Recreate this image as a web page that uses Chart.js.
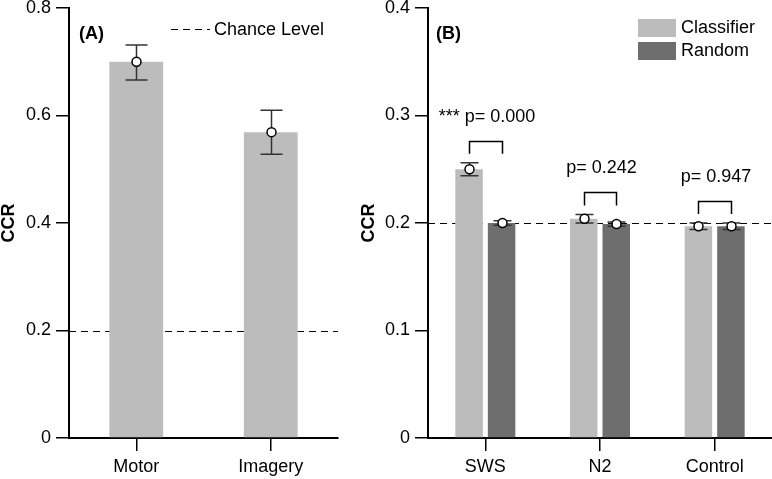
<!DOCTYPE html>
<html>
<head>
<meta charset="utf-8">
<script src="https://cdn.jsdelivr.net/npm/chart.js@4"></script>
<style>
  html, body { margin: 0; padding: 0; background: #fff; }
  #wrap { position: relative; width: 772px; height: 479px; }
  .panel { position: absolute; top: 0; height: 479px; }
  #panelA { left: 0; width: 360px; }
  #panelB { left: 360px; width: 412px; }
</style>
</head>
<body>
<div id="wrap">
  <div class="panel" id="panelA"><canvas id="chartA"></canvas></div>
  <div class="panel" id="panelB"><canvas id="chartB"></canvas></div>
</div>
<script>
// panel A: motor vs imagery
const taskCategories = ['Motor', 'Imagery'];
const taskMeans = [0.700, 0.569];
const taskLow = [0.666, 0.528];
const taskHigh = [0.731, 0.610];

// panel B: sleep stages, classifier vs random
const stageCategories = ['SWS', 'N2', 'Control'];
const classifierMeans = [0.250, 0.204, 0.197];
const classifierLow = [0.244, 0.200, 0.194];
const classifierHigh = [0.256, 0.208, 0.200];
const randomMeans = [0.200, 0.199, 0.197];
const randomLow = [0.198, 0.197, 0.194];
const randomHigh = [0.202, 0.201, 0.200];
const pLabels = ['*** p= 0.000', 'p= 0.242', 'p= 0.947'];

const chanceLevel = 0.2;

const FONT = "'Liberation Sans', Arial, Helvetica, sans-serif";
const LIGHT = '#bcbcbc';
const DARK = '#6e6e6e';

Chart.defaults.font.family = FONT;
Chart.defaults.color = '#000';

// error bars + white markers on top of each bar
const errorBars = {
  id: 'errorBars',
  afterDatasetsDraw(chart, args, opts) {
    const ctx = chart.ctx, y = chart.scales.y;
    ctx.save();
    opts.series.forEach((s, i) => {
      const meta = chart.getDatasetMeta(i);
      meta.data.forEach((bar, j) => {
        const x = Math.round(bar.x) + 0.5;
        const hi = y.getPixelForValue(s.high[j]);
        const lo = y.getPixelForValue(s.low[j]);
        ctx.strokeStyle = '#333';
        ctx.lineWidth = 1.5;
        ctx.beginPath();
        ctx.moveTo(x, hi); ctx.lineTo(x, lo);
        ctx.moveTo(x - opts.cap, hi); ctx.lineTo(x + opts.cap, hi);
        ctx.moveTo(x - opts.cap, lo); ctx.lineTo(x + opts.cap, lo);
        ctx.stroke();
        ctx.beginPath();
        ctx.arc(x, y.getPixelForValue(s.mean[j]), 4.5, 0, Math.PI * 2);
        ctx.fillStyle = '#fff';
        ctx.fill();
        ctx.strokeStyle = '#000';
        ctx.stroke();
      });
    });
    ctx.restore();
  }
};

// dashed chance line, panel label, legends
const decorations = {
  id: 'decorations',
  beforeDatasetsDraw(chart, args, opts) {
    const ctx = chart.ctx, a = chart.chartArea;
    const yy = Math.round(chart.scales.y.getPixelForValue(chanceLevel)) + 0.5;
    ctx.save();
    ctx.strokeStyle = '#000';
    ctx.lineWidth = 1;
    ctx.setLineDash([7, 5]);
    ctx.beginPath();
    ctx.moveTo(a.left, yy); ctx.lineTo(a.right, yy);
    ctx.stroke();
    ctx.restore();
  },
  afterDatasetsDraw(chart, args, opts) {
    const ctx = chart.ctx, a = chart.chartArea;
    ctx.save();
    ctx.fillStyle = '#000';
    ctx.textBaseline = 'middle';
    ctx.font = 'bold 18px ' + FONT;
    ctx.fillText(opts.label, a.left + opts.labelDx, 34);
    ctx.font = '18px ' + FONT;
    if (opts.chanceLegend) {
      ctx.strokeStyle = '#000';
      ctx.lineWidth = 1;
      ctx.setLineDash([7, 5]);
      ctx.beginPath();
      ctx.moveTo(a.left + 102, 29.5); ctx.lineTo(a.left + 141, 29.5);
      ctx.stroke();
      ctx.fillText('Chance Level', a.left + 145, 30);
    }
    if (opts.barLegend) {
      chart.data.datasets.forEach((ds, i) => {
        const top = 19 + i * 23;
        ctx.fillStyle = ds.backgroundColor;
        ctx.fillRect(a.left + 210, top, 38, 18);
        ctx.fillStyle = '#000';
        ctx.fillText(ds.label, a.left + 253, top + 9.5);
      });
    }
    ctx.restore();
  }
};

// significance brackets between classifier and random bars
const brackets = {
  id: 'brackets',
  afterDatasetsDraw(chart, args, opts) {
    const ctx = chart.ctx, y = chart.scales.y;
    const m0 = chart.getDatasetMeta(0), m1 = chart.getDatasetMeta(1);
    ctx.save();
    ctx.strokeStyle = '#000';
    ctx.lineWidth = 1.5;
    ctx.fillStyle = '#000';
    ctx.font = '18px ' + FONT;
    ctx.textAlign = 'center';
    ctx.textBaseline = 'middle';
    opts.labels.forEach((txt, j) => {
      const x1 = Math.round(m0.data[j].x) + 0.5, x2 = Math.round(m1.data[j].x) + 0.5;
      const leg = y.getPixelForValue(Math.max(classifierHigh[j], randomHigh[j])) - 9;
      const top = Math.round(leg - 13) + 0.5;
      ctx.beginPath();
      ctx.moveTo(x1, leg); ctx.lineTo(x1, top); ctx.lineTo(x2, top); ctx.lineTo(x2, leg);
      ctx.stroke();
      ctx.fillText(txt, (x1 + x2) / 2 + 1, top - 24);
    });
    ctx.restore();
  }
};

function yScale(max, step, width) {
  return {
    min: 0, max: max,
    ticks: { stepSize: step, padding: 5, font: { size: 18 } },
    grid: { drawOnChartArea: false, drawTicks: true, tickLength: 13, color: '#000', lineWidth: 1.5 },
    border: { display: true, color: '#000', width: 2 },
    title: { display: true, text: 'CCR', font: { size: 18, weight: 'bold', lineHeight: 1 }, padding: 0 },
    afterFit(s) { s.width = width; s.paddingTop = 0; s.paddingBottom = 0; }
  };
}

function xScale() {
  return {
    offset: true,
    ticks: { padding: 5, font: { size: 18 } },
    grid: { offset: false, drawOnChartArea: false, drawTicks: true, tickLength: 13, color: '#000', lineWidth: 1.5 },
    border: { display: true, color: '#000', width: 2 },
    afterFit(s) { s.height = 41; s.paddingLeft = 0; s.paddingRight = 0; }
  };
}

new Chart(document.getElementById('chartA'), {
  type: 'bar',
  data: {
    labels: taskCategories,
    datasets: [{ label: 'CCR', data: taskMeans, backgroundColor: LIGHT,
      categoryPercentage: 1, barPercentage: 0.4 }]
  },
  options: {
    responsive: true, maintainAspectRatio: false, animation: false,
    layout: { padding: { top: 8, right: 22, bottom: 0, left: 0 } },
    scales: { x: xScale(), y: yScale(0.8, 0.2, 69) },
    plugins: {
      legend: { display: false }, tooltip: { enabled: false },
      errorBars: { cap: 11, series: [{ mean: taskMeans, low: taskLow, high: taskHigh }] },
      decorations: { label: '(A)', labelDx: 10, chanceLegend: true }
    }
  },
  plugins: [decorations, errorBars]
});

new Chart(document.getElementById('chartB'), {
  type: 'bar',
  data: {
    labels: stageCategories,
    datasets: [
      { label: 'Classifier', data: classifierMeans, backgroundColor: LIGHT,
        categoryPercentage: 0.567, barPercentage: 0.846 },
      { label: 'Random', data: randomMeans, backgroundColor: DARK,
        categoryPercentage: 0.567, barPercentage: 0.846 }
    ]
  },
  options: {
    responsive: true, maintainAspectRatio: false, animation: false,
    layout: { padding: { top: 8, right: 0, bottom: 0, left: 0 } },
    scales: { x: xScale(), y: yScale(0.4, 0.1, 68) },
    plugins: {
      legend: { display: false }, tooltip: { enabled: false },
      errorBars: { cap: 9, series: [
        { mean: classifierMeans, low: classifierLow, high: classifierHigh },
        { mean: randomMeans, low: randomLow, high: randomHigh }
      ] },
      decorations: { label: '(B)', labelDx: 8, barLegend: true },
      brackets: { labels: pLabels }
    }
  },
  plugins: [decorations, errorBars, brackets]
});
</script>
</body>
</html>
